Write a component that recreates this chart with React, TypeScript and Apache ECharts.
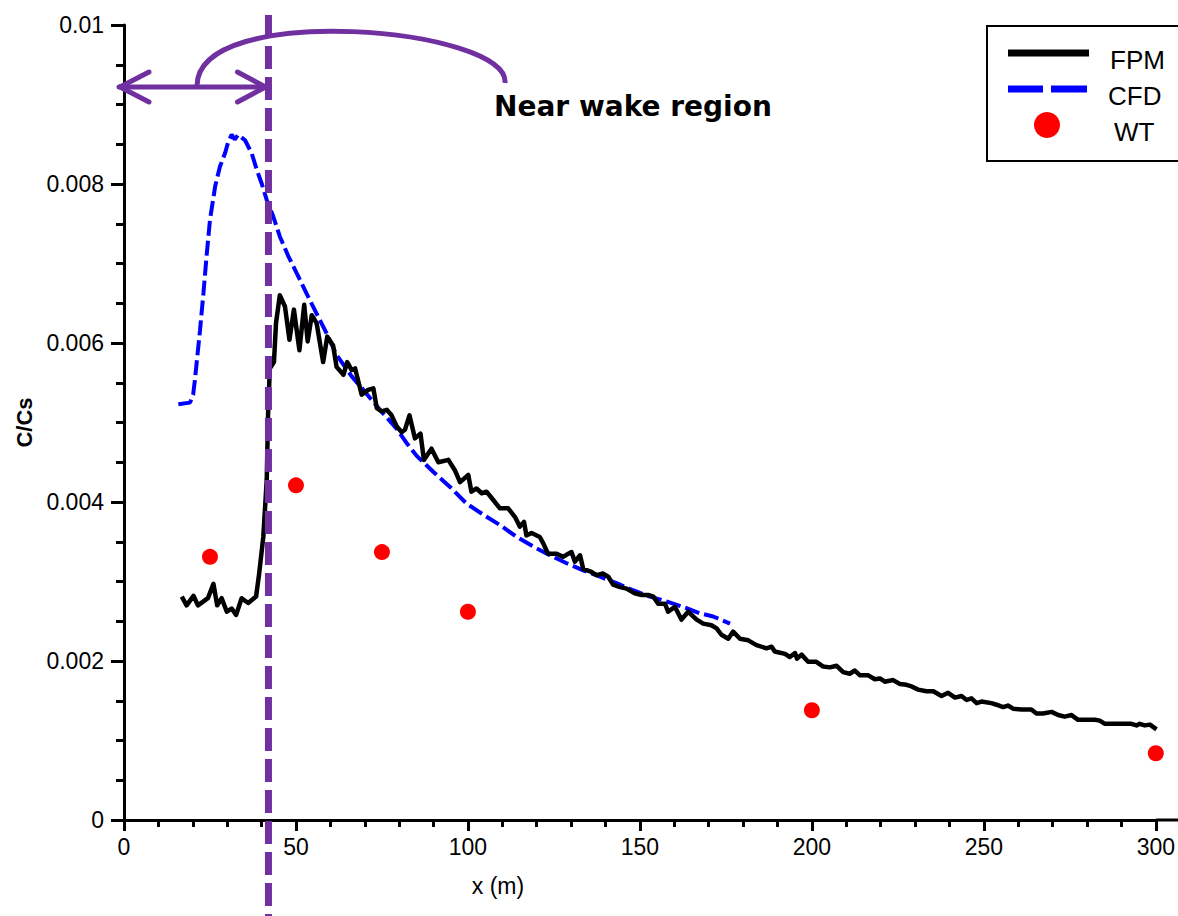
import React, { useEffect, useRef } from 'react';
import * as echarts from 'echarts';

// FPM (black line)
const fpmX = [16.8, 18.2, 20.2, 21.5, 23.1, 24.4, 26.0, 27.1, 28.4, 29.9, 31.3, 32.6, 34.2, 36.1, 38.4, 39.3, 40.5, 41.5, 41.9, 42.4, 43.6, 44.2, 45.3, 46.8, 48.1, 49.4, 51.0, 52.4, 53.4, 54.6, 56.0, 57.9, 59.1, 60.8, 61.8, 63.8, 64.9, 66.2, 67.2, 69.1, 71.0, 72.5, 73.5, 74.9, 76.4, 77.8, 79.3, 80.7, 81.7, 83.0, 84.6, 86.2, 87.2, 89.4, 91.4, 94.3, 96.2, 97.7, 100.1, 101.0, 102.5, 104.0, 105.4, 106.9, 109.3, 111.7, 113.7, 115.1, 116.3, 117.0, 118.5, 120.9, 121.9, 123.3, 125.8, 127.7, 129.2, 130.1, 131.1, 132.6, 133.5, 135.9, 137.4, 139.3, 140.8, 142.2, 144.2, 146.1, 148.5, 150.5, 152.4, 153.9, 155.3, 157.3, 158.2, 160.2, 162.1, 164.0, 166.5, 168.4, 170.8, 172.3, 173.7, 175.7, 177.1, 179.1, 181.5, 183.9, 186.8, 188.3, 189.2, 192.2, 193.6, 195.1, 195.7, 197.0, 198.9, 201.3, 203.3, 205.2, 207.2, 209.1, 211.0, 212.5, 214.0, 216.4, 218.3, 219.8, 221.2, 223.6, 225.6, 227.5, 229.0, 230.9, 233.3, 235.3, 237.7, 239.6, 241.6, 243.5, 245.0, 246.4, 247.9, 249.3, 252.2, 253.7, 255.6, 257.0, 258.5, 260.9, 263.8, 265.3, 267.2, 269.7, 271.6, 273.5, 275.5, 277.4, 279.4, 282.3, 283.7, 285.2, 288.1, 291.0, 292.9, 294.4, 295.3, 296.8, 298.3, 300.2];
const fpmY = [0.00281, 0.00270, 0.00282, 0.00270, 0.00275, 0.00279, 0.00297, 0.00270, 0.00279, 0.00262, 0.00266, 0.00258, 0.00279, 0.00273, 0.00281, 0.00310, 0.00356, 0.00428, 0.00512, 0.00568, 0.00576, 0.00625, 0.00660, 0.00646, 0.00604, 0.00642, 0.00591, 0.00648, 0.00602, 0.00635, 0.00625, 0.00576, 0.00608, 0.00597, 0.00570, 0.00560, 0.00576, 0.00566, 0.00568, 0.00535, 0.00541, 0.00543, 0.00518, 0.00514, 0.00516, 0.00509, 0.00495, 0.00488, 0.00491, 0.00509, 0.00480, 0.00486, 0.00453, 0.00467, 0.00450, 0.00453, 0.00440, 0.00425, 0.00434, 0.00413, 0.00417, 0.00411, 0.00413, 0.00405, 0.00392, 0.00392, 0.00381, 0.00369, 0.00375, 0.00358, 0.00361, 0.00356, 0.00348, 0.00335, 0.00335, 0.00331, 0.00335, 0.00337, 0.00325, 0.00333, 0.00316, 0.00312, 0.00308, 0.00310, 0.00306, 0.00296, 0.00293, 0.00291, 0.00285, 0.00283, 0.00283, 0.00281, 0.00272, 0.00272, 0.00262, 0.00268, 0.00252, 0.00262, 0.00252, 0.00247, 0.00245, 0.00241, 0.00233, 0.00228, 0.00237, 0.00228, 0.00226, 0.00220, 0.00216, 0.00218, 0.00212, 0.00209, 0.00205, 0.00210, 0.00203, 0.00208, 0.00199, 0.00199, 0.00193, 0.00192, 0.00194, 0.00186, 0.00184, 0.00188, 0.00182, 0.00182, 0.00177, 0.00178, 0.00174, 0.00176, 0.00171, 0.00170, 0.00168, 0.00164, 0.00162, 0.00162, 0.00156, 0.00160, 0.00154, 0.00156, 0.00151, 0.00153, 0.00147, 0.00149, 0.00147, 0.00145, 0.00142, 0.00144, 0.00140, 0.00139, 0.00139, 0.00134, 0.00134, 0.00136, 0.00132, 0.00130, 0.00132, 0.00126, 0.00126, 0.00126, 0.00125, 0.00121, 0.00121, 0.00121, 0.00121, 0.00119, 0.00121, 0.00119, 0.00120, 0.00114];

// CFD (blue dashed line)
const cfdX = [15.8, 19.2, 20.1, 20.6, 21.6, 22.1, 23.1, 24.0, 25.0, 26.5, 27.9, 29.4, 30.3, 31.3, 32.2, 33.2, 35.2, 37.1, 38.6, 40.0, 41.5, 43.4, 45.3, 47.8, 50.2, 53.1, 56.0, 58.9, 61.8, 66.2, 69.6, 74.4, 79.3, 82.2, 85.1, 89.9, 94.8, 99.6, 104.5, 109.3, 114.2, 119.0, 123.8, 128.7, 133.5, 138.4, 143.2, 148.0, 152.9, 157.7, 162.6, 167.4, 171.3, 176.2];
const cfdY = [0.00523, 0.00525, 0.00535, 0.00553, 0.00595, 0.00616, 0.00663, 0.00709, 0.00755, 0.00797, 0.00822, 0.00839, 0.00853, 0.00862, 0.00856, 0.00862, 0.00855, 0.00839, 0.00818, 0.00801, 0.00780, 0.00759, 0.00734, 0.00709, 0.00688, 0.00662, 0.00637, 0.00612, 0.00585, 0.00558, 0.00541, 0.00516, 0.00492, 0.00474, 0.00458, 0.00438, 0.00419, 0.00398, 0.00384, 0.00371, 0.00356, 0.00344, 0.00333, 0.00323, 0.00314, 0.00306, 0.00298, 0.00289, 0.00281, 0.00275, 0.00268, 0.00260, 0.00256, 0.00247];

// WT (red points)
const wtX = [25, 50, 75, 100, 200, 300];
const wtY = [0.00331, 0.00421, 0.00337, 0.00262, 0.00138, 0.00084];

const xTicks = [0, 50, 100, 150, 200, 250, 300];
const yTicks = [0, 0.002, 0.004, 0.006, 0.008, 0.01];
const NEAR_WAKE_X = 42;
const PURPLE = '#7030A0';
const FONT = '"Liberation Sans", Arial, sans-serif';

export default function App() {
  const ref = useRef<HTMLDivElement>(null);
  useEffect(() => {
    const chart = echarts.init(ref.current!, null, { renderer: 'svg' });
    chart.setOption({
      animation: false,
      backgroundColor: '#fff',
      grid: { left: 124, top: 25, right: 22, bottom: 96, containLabel: false },
      xAxis: {
        type: 'value',
        min: xTicks[0],
        max: xTicks[xTicks.length - 1],
        interval: 50,
        axisLine: { lineStyle: { color: '#000', width: 3 } },
        axisTick: { show: true, length: 11, lineStyle: { color: '#000', width: 3 } },
        minorTick: { show: true, splitNumber: 5, length: 7, lineStyle: { color: '#000', width: 3 } },
        splitLine: { show: false },
        axisLabel: { color: '#000', fontSize: 23, fontFamily: FONT, margin: 15 },
      },
      yAxis: {
        type: 'value',
        min: yTicks[0],
        max: yTicks[yTicks.length - 1],
        interval: 0.002,
        name: 'C/Cs',
        nameLocation: 'middle',
        nameGap: 84,
        nameRotate: 90,
        nameTextStyle: { color: '#000', fontSize: 22, fontWeight: 'bold', fontFamily: FONT },
        axisLine: { lineStyle: { color: '#000', width: 3 } },
        axisTick: { show: true, length: 13, lineStyle: { color: '#000', width: 3 } },
        minorTick: { show: true, splitNumber: 4, length: 8, lineStyle: { color: '#000', width: 3 } },
        splitLine: { show: false },
        axisLabel: {
          color: '#000', fontSize: 23, fontFamily: FONT, margin: 20,
          formatter: (v: number) => (v === 0 ? '0' : String(+v.toFixed(3))),
        },
      },
      series: [
        {
          name: 'FPM', type: 'line', showSymbol: false, symbol: 'none',
          data: fpmX.map((x, i) => [x, fpmY[i]]),
          lineStyle: { color: '#000', width: 4.5, join: 'round' },
          z: 3,
        },
        {
          name: 'CFD', type: 'line', showSymbol: false, symbol: 'none',
          data: cfdX.map((x, i) => [x, cfdY[i]]),
          lineStyle: { color: '#0000FF', width: 4, type: [15, 5] },
          z: 2,
        },
        {
          name: 'WT', type: 'scatter', symbol: 'circle', symbolSize: 16,
          data: wtX.map((x, i) => [x, wtY[i]]),
          itemStyle: { color: '#FF0000', opacity: 1 },
          z: 4,
        },
      ],
    });

    const vx = chart.convertToPixel({ xAxisIndex: 0 }, NEAR_WAKE_X) as number;
    const x0 = chart.convertToPixel({ xAxisIndex: 0 }, 0) as number;
    const xEnd = chart.convertToPixel({ xAxisIndex: 0 }, 300) as number;
    const yZero = chart.convertToPixel({ yAxisIndex: 0 }, 0) as number;
    const ay = 87;

    chart.setOption({
      graphic: [
        { type: 'line', z: 50, shape: { x1: xEnd, y1: yZero, x2: 1178, y2: yZero }, style: { stroke: '#000', lineWidth: 3 } },
        { type: 'line', z: 100, shape: { x1: vx, y1: 15, x2: vx, y2: 916 }, style: { stroke: PURPLE, lineWidth: 7, lineDash: [23, 8] } },
        { type: 'line', z: 100, shape: { x1: x0 - 5, y1: ay, x2: vx - 3, y2: ay }, style: { stroke: PURPLE, lineWidth: 5, lineCap: 'round' } },
        { type: 'polyline', z: 100, shape: { points: [[x0 + 25, ay - 15], [x0 - 4, ay], [x0 + 25, ay + 15]] }, style: { stroke: PURPLE, lineWidth: 5, lineCap: 'round', lineJoin: 'round', fill: 'none' } },
        { type: 'polyline', z: 100, shape: { points: [[vx - 31, ay - 15], [vx - 3, ay], [vx - 31, ay + 15]] }, style: { stroke: PURPLE, lineWidth: 5, lineCap: 'round', lineJoin: 'round', fill: 'none' } },
        { type: 'bezierCurve', z: 100, shape: { x1: 197, y1: 86, cpx1: 197, cpy1: 0, cpx2: 510, cpy2: 28, x2: 505, y2: 83 }, style: { stroke: PURPLE, lineWidth: 5, fill: 'none' } },
        { type: 'text', z: 100, x: 494, y: 106, style: { text: 'Near wake region', fontFamily: '"DejaVu Sans", Verdana, sans-serif', fontWeight: 'bold', fontSize: 28, fill: '#000', textVerticalAlign: 'middle' } },
        { type: 'text', z: 100, x: 498, y: 886, style: { text: 'x (m)', fontFamily: FONT, fontSize: 23, fill: '#000', textAlign: 'center', textVerticalAlign: 'middle' } },
        { type: 'rect', z: 100, shape: { x: 987, y: 26, width: 220, height: 135 }, style: { stroke: '#000', lineWidth: 2, fill: '#fff' } },
        { type: 'line', z: 101, shape: { x1: 1008, y1: 53, x2: 1089, y2: 53 }, style: { stroke: '#000', lineWidth: 7 } },
        { type: 'text', z: 101, x: 1110, y: 60, style: { text: 'FPM', fontFamily: FONT, fontSize: 26, fill: '#000', textVerticalAlign: 'middle' } },
        { type: 'line', z: 101, shape: { x1: 1008, y1: 89, x2: 1043, y2: 89 }, style: { stroke: '#0000FF', lineWidth: 7 } },
        { type: 'line', z: 101, shape: { x1: 1051, y1: 89, x2: 1087, y2: 89 }, style: { stroke: '#0000FF', lineWidth: 7 } },
        { type: 'text', z: 101, x: 1108, y: 96, style: { text: 'CFD', fontFamily: FONT, fontSize: 26, fill: '#000', textVerticalAlign: 'middle' } },
        { type: 'circle', z: 101, shape: { cx: 1047, cy: 125, r: 13 }, style: { fill: '#FF0000' } },
        { type: 'text', z: 101, x: 1114, y: 132, style: { text: 'WT', fontFamily: FONT, fontSize: 26, fill: '#000', textVerticalAlign: 'middle' } },
      ],
    });

    return () => chart.dispose();
  }, []);

  return <div ref={ref} style={{ position: 'fixed', left: 0, top: 0, width: 1178, height: 916, background: '#fff' }} />;
}
